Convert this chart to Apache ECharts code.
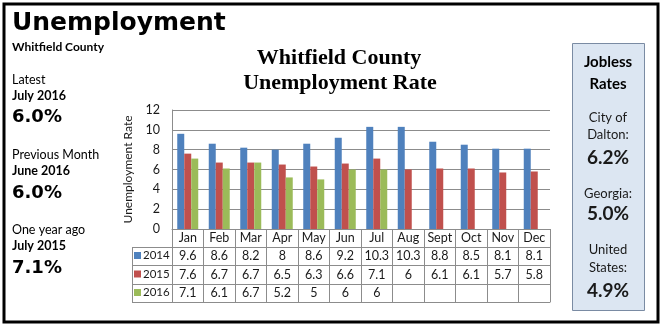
<!DOCTYPE html>
<html><head><meta charset="utf-8">
<script src="https://cdn.jsdelivr.net/npm/echarts@6/dist/echarts.min.js"></script>
<style>html,body{margin:0;padding:0;background:#fff}#c{width:664px;height:328px}</style>
</head><body><div id="c"></div>
<script>
// ---- data ----
const months = ['Jan','Feb','Mar','Apr','May','Jun','Jul','Aug','Sept','Oct','Nov','Dec'];
const years = ['2014','2015','2016'];
const values2014 = [9.6, 8.6, 8.2, 8, 8.6, 9.2, 10.3, 10.3, 8.8, 8.5, 8.1, 8.1];
const values2015 = [7.6, 6.7, 6.7, 6.5, 6.3, 6.6, 7.1, 6, 6.1, 6.1, 5.7, 5.8];
const values2016 = [7.1, 6.1, 6.7, 5.2, 5, 6, 6];
const yTicks = [0, 2, 4, 6, 8, 10, 12];
const pageTitle = 'Unemployment';
const pageSubtitle = 'Whitfield County';
const headlineLabels = ['Latest', 'Previous Month', 'One year ago'];
const headlinePeriods = ['July 2016', 'June 2016', 'July 2015'];
const headlineValues = ['6.0%', '6.0%', '7.1%'];
const chartTitle = ['Whitfield County', 'Unemployment Rate'];
const yAxisName = 'Unemployment Rate';
const joblessTitle = ['Jobless', 'Rates'];
const joblessAreas = [['City of', 'Dalton:'], ['Georgia:'], ['United', 'States:']];
const joblessValues = ['6.2%', '5.0%', '4.9%'];

// ---- style / layout ----
const colors = ['#4F81BD', '#C0504D', '#9BBB59'];
const sans = 'Lato, "Open Sans", sans-serif';
const lineColor = '#8c8c8c';
const gridLeft = 172, gridRight = 550, gridTop = 110, gridBottom = 229;
const rowOffsets = [0, 18, 36, 55, 73];
const rowHeights = [18, 18, 19, 18];
const tableLeft = 132;

const seriesValues = [values2014, values2015, values2016];

const chart = echarts.init(document.getElementById('c'), null, {renderer: 'canvas'});

const xAxes = [];
for (let r = 0; r < 5; r++) {
  const isLast = r === 4;
  xAxes.push({
    type: 'category',
    data: months,
    position: 'bottom',
    offset: rowOffsets[r],
    gridIndex: 0,
    axisLine: {show: true, lineStyle: {color: lineColor, width: 1}},
    axisTick: {show: !isLast, length: isLast ? 0 : rowHeights[r], alignWithLabel: false, lineStyle: {color: lineColor, width: 1}},
    axisLabel: {
      show: !isLast,
      interval: 0,
      margin: isLast ? 0 : rowHeights[r] / 2,
      verticalAlign: 'middle',
      color: '#1a1a1a',
      fontFamily: sans,
      fontSize: 12.5,
      formatter: function (val, idx) {
        if (r === 0) return val;
        const v = seriesValues[r - 1][idx];
        return v === undefined ? '' : String(v);
      }
    },
    splitLine: {show: false}
  });
}

const series = seriesValues.map(function (d, i) {
  return {
    name: years[i], type: 'bar', data: d, xAxisIndex: 0,
    barWidth: 7, barGap: '0%', itemStyle: {color: colors[i]},
    silent: true, animation: false
  };
});

const legends = years.map(function (y, i) {
  const rowTop = gridBottom + rowOffsets[i + 1];
  return {
    data: [y], left: tableLeft + 2, top: rowTop + rowHeights[i + 1] / 2 - 6.5,
    orient: 'vertical', padding: 0, itemWidth: 7, itemHeight: 7, itemGap: 0,
    icon: 'rect', selectedMode: false,
    textStyle: {fontFamily: sans, fontSize: 11.5, color: '#1a1a1a', padding: [0, 0, 0, -3]}
  };
});

// graphic elements: frame, side panels, legend column lines
const g = [];
g.push({type: 'rect', shape: {x: 4, y: 4, width: 654, height: 318}, style: {fill: 'none', stroke: '#000', lineWidth: 3}, silent: true});
g.push({type: 'rect', shape: {x: 572.5, y: 43.5, width: 72, height: 267}, style: {fill: '#dce6f2', stroke: '#7a8ba3', lineWidth: 1}, silent: true});
// legend column lines
const colTop = gridBottom + rowOffsets[1];
const colBottom = gridBottom + rowOffsets[4];
g.push({type: 'line', shape: {x1: tableLeft + 0.5, y1: colTop, x2: tableLeft + 0.5, y2: colBottom}, style: {stroke: lineColor, lineWidth: 1}, silent: true});
for (let r = 1; r <= 4; r++) {
  const yy = gridBottom + rowOffsets[r] + 0.5;
  g.push({type: 'line', shape: {x1: tableLeft, y1: yy, x2: gridLeft, y2: yy}, style: {stroke: lineColor, lineWidth: 1}, silent: true});
}
function txt(t, x, y, font, align, color) {
  g.push({type: 'text', silent: true, style: {text: t, x: x, y: y, font: font, fill: color || '#000', align: align || 'left', verticalAlign: 'middle'}});
}
txt(pageTitle, 12, 23, 'bold 25px "DejaVu Sans"');
txt(pageSubtitle, 12, 47, 'bold 12px ' + sans);
const labY = [80, 155, 230], perY = [96, 171, 246], valY = [117, 193, 268];
for (let i = 0; i < 3; i++) {
  txt(headlineLabels[i], 12, labY[i], '12.5px ' + sans);
  txt(headlinePeriods[i], 12, perY[i], 'bold 12.5px ' + sans);
  txt(headlineValues[i], 12, valY[i], 'bold 18px "DejaVu Sans"');
}
txt(chartTitle[0], 339, 58, 'bold 22px "Liberation Serif"', 'center');
txt(chartTitle[1], 340, 83, 'bold 22px "Liberation Serif"', 'center');
const cx = 608;
txt(joblessTitle[0], cx, 62, 'bold 15px ' + sans, 'center');
txt(joblessTitle[1], cx, 84, 'bold 15px ' + sans, 'center');
const areaY = [[118, 135], [194], [250, 268]];
const valJY = [158, 214, 291];
for (let i = 0; i < 3; i++) {
  joblessAreas[i].forEach(function (t, k) { txt(t, cx, areaY[i][k], '13px ' + sans, 'center', '#1a1a1a'); });
  txt(joblessValues[i], cx, valJY[i], 'bold 19px ' + sans, 'center', '#1a1a1a');
}

chart.setOption({
  animation: false,
  backgroundColor: '#fff',
  grid: {left: gridLeft, top: gridTop, width: gridRight - gridLeft, height: gridBottom - gridTop, containLabel: false},
  legend: legends,
  xAxis: xAxes,
  yAxis: {
    type: 'value', min: yTicks[0], max: yTicks[yTicks.length - 1], interval: 2,
    name: yAxisName, nameLocation: 'middle', nameGap: 30, nameRotate: 90,
    nameTextStyle: {fontFamily: sans, fontSize: 12, color: '#1a1a1a'},
    axisLine: {show: true, lineStyle: {color: lineColor}},
    axisTick: {show: false},
    axisLabel: {margin: 12, fontFamily: sans, fontSize: 12.5, color: '#1a1a1a'},
    splitLine: {show: true, lineStyle: {color: lineColor, width: 1}}
  },
  series: series,
  graphic: g
});
</script></body></html>
